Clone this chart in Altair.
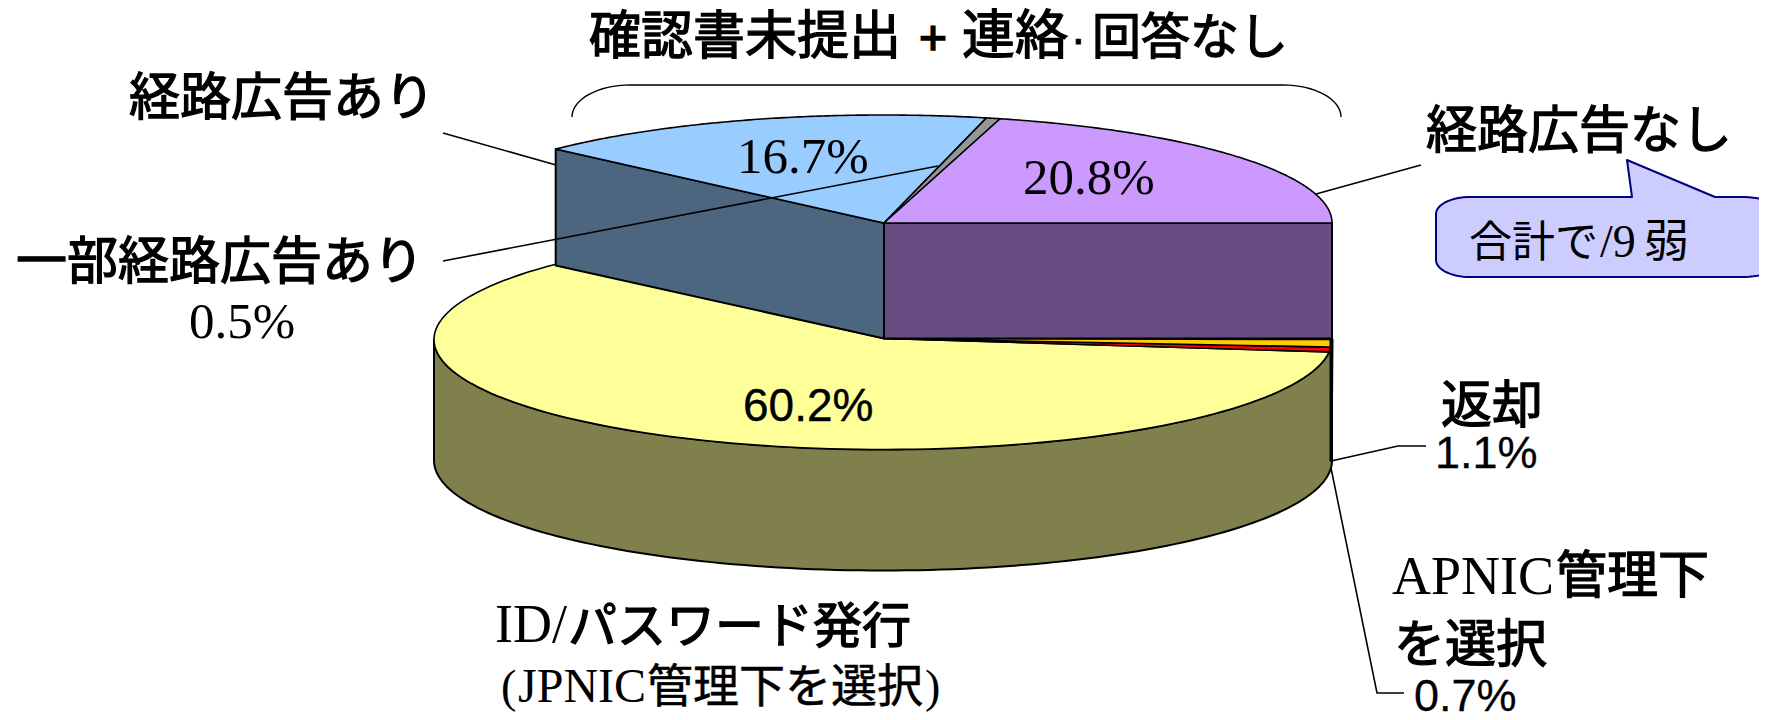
import math
import altair as alt

# Slice shares (percent), counter-clockwise from the right-hand edge of the pie
slice_names = ["経路広告なし", "一部経路広告あり", "経路広告あり", "ID/パスワード発行", "APNIC管理下を選択", "返却"]
slice_values = [20.8, 0.5, 16.7, 60.2, 0.7, 1.1]
top_colors = ["#CC99FF", "#969696", "#99CCFF", "#FFFF99", "#FF0000", "#FFCC00"]
wall_colors = ["#664C80", "#4B4B4B", "#4D6680", "#80804D", "#800000", "#806600"]

W, H = 1751, 704
CX, RX = 883, 449
UP_Y, UP_RY = 223, 108
LOW_Y, LOW_RY = 339.5, 110
DEPTH = 121
APEX_X = 884


def bounds():
    out, a = [], 0.0
    for v in slice_values:
        out.append((a, a + v * 3.6))
        a += v * 3.6
    return out


def arc(a0, a1, cy, ry, n=120):
    return [[CX + RX * math.cos(math.radians(a0 + (a1 - a0) * i / n)),
             cy - ry * math.sin(math.radians(a0 + (a1 - a0) * i / n))] for i in range(n + 1)]


def feature(points, fill, sw=2.0):
    return {"type": "Feature",
            "geometry": {"type": "Polygon", "coordinates": [points + [points[0]]]},
            "properties": {"fill": fill, "sw": sw}}


b = bounds()
features = []
# outer wall of the low part
w = arc(180, 360, LOW_Y, LOW_RY)
features.append(feature(w + [[x, y + DEPTH] for x, y in reversed(w)], wall_colors[3]))
# low slices
for i in (3, 4, 5):
    features.append(feature([[APEX_X, LOW_Y - 1]] + arc(b[i][0], b[i][1], LOW_Y, LOW_RY), top_colors[i], 1.6))
# right-hand edge of the thin slices
features.append(feature([[CX + RX, LOW_Y], [CX + RX - 1, LOW_Y + DEPTH], [CX + RX - 1, LOW_Y]], "#000000", 3))
# cut walls of the raised part
ax, ay = arc(b[2][1], b[2][1], UP_Y, UP_RY, 1)[0]
features.append(feature([[ax, ay], [APEX_X, UP_Y], [APEX_X, LOW_Y - 1], [ax, ay + (LOW_Y - UP_Y)]], wall_colors[2]))
features.append(feature([[APEX_X, UP_Y], [CX + RX, UP_Y], [CX + RX, LOW_Y - 1], [APEX_X, LOW_Y - 1]], wall_colors[0]))
# raised slices
for i in (2, 1, 0):
    features.append(feature([[APEX_X, UP_Y]] + arc(b[i][0], b[i][1], UP_Y, UP_RY), top_colors[i], 1.6))


# callout bubble
def corner(cx, cy, rx, ry, a0, a1, n=16):
    return [[cx + rx * math.cos(math.radians(a0 + (a1 - a0) * i / n)),
             cy - ry * math.sin(math.radians(a0 + (a1 - a0) * i / n))] for i in range(n + 1)]


bubble = (corner(1470, 214, 34, 17, 180, 90) + [[1632, 197], [1627, 160], [1715, 197]] +
          corner(1740, 214, 46, 17, 90, 0) + corner(1740, 260, 46, 17, 0, -90) +
          corner(1470, 260, 34, 17, -90, -180))
callout = {"type": "Feature", "geometry": {"type": "Polygon", "coordinates": [bubble + [bubble[0]]]},
           "properties": {"fill": "#CCCCFF", "sw": 2}}

shapes = alt.Chart(alt.Data(values=features + [callout], format=alt.DataFormat(type="json"))).mark_geoshape(
    clip=True, strokeJoin="round"
).encode(
    fill=alt.Fill("properties.fill:N", scale=None),
    strokeWidth=alt.StrokeWidth("properties.sw:Q", scale=None),
    stroke=alt.condition("datum.properties.fill == '#CCCCFF'", alt.value("#000080"), alt.value("#000000")),
).project(type="identity", scale=1, translate=[-8, -8])

xs = alt.Scale(domain=[8, 8 + W], range=[0, W])
ys = alt.Scale(domain=[8, 8 + H], range=[0, H])


def polyline(points, sw=1.6):
    rows = [{"x": p[0], "y": p[1], "o": i} for i, p in enumerate(points)]
    return alt.Chart(alt.Data(values=rows)).mark_line(color="black", strokeWidth=sw).encode(
        x=alt.X("x:Q", scale=xs, axis=None),
        y=alt.Y("y:Q", scale=ys, axis=None),
        order="o:Q",
    )


leaders = [
    [[443, 133], [556, 165]],
    [[443, 261], [938, 166]],
    [[1421, 165], [1316, 194]],
    [[1331, 461], [1398, 446], [1426, 446]],
    [[1331, 468], [1377, 693], [1404, 693]],
]
brace = corner(630, 117, 58, 32, 180, 90) + corner(1283, 117, 58, 32, 90, 0)

SERIF, SANS, CJK = "Liberation Serif", "Liberation Sans", "Noto Sans CJK JP"


def label(x, y, s, font=CJK, size=51, sw=1.3):
    return alt.Chart(alt.Data(values=[{"x": x, "y": y, "s": s}])).mark_text(
        font=font, fontSize=size, align="left", baseline="alphabetic", color="black",
        stroke="black", strokeWidth=sw,
    ).encode(
        x=alt.X("x:Q", scale=xs, axis=None),
        y=alt.Y("y:Q", scale=ys, axis=None),
        text="s:N",
    )


texts = [
    label(589, 54, "確認書未提出", CJK, 52),
    label(919, 54, "+", SANS, 48, 1.6),
    label(962, 54, "連絡", CJK, 53),
    label(1071, 54, "·", SANS, 44, 1.0),
    label(1092, 54, "回答なし", CJK, 49),
    label(129, 115, "経路広告あり"),
    label(16, 279, "一部経路広告あり"),
    label(189, 338, "0.5%", SERIF, 51, 0),
    label(1426, 148, "経路広告なし"),
    label(737, 173, "16.7%", SERIF, 51, 0),
    label(1023, 194, "20.8%", SERIF, 51, 0),
    label(743, 421, "60.2%", SANS, 46, 0.4),
    label(1441, 423, "返却"),
    label(1435, 468, "1.1%", SANS, 45, 0.3),
    label(1392, 594, "APNIC", SERIF, 54, 0),
    label(1556, 593, "管理下"),
    label(1394, 662, "を選択"),
    label(1414, 711, "0.7%", SANS, 45, 0.3),
    label(495, 642, "ID/", SERIF, 54, 0),
    label(568, 643, "パスワード発行", CJK, 49),
    label(501, 702, "(", SERIF, 46, 0),
    label(518, 702, "JPNIC", SERIF, 48, 0),
    label(647, 702, "管理下を選択", CJK, 46, 0.5),
    label(925, 702, ")", SERIF, 46, 0),
    label(1469, 257, "合計で", CJK, 43, 0),
    label(1600, 257, "/9", SERIF, 46, 0),
    label(1644, 257, "弱", CJK, 45, 0),
]

chart = alt.layer(
    shapes,
    *[polyline(p) for p in leaders],
    polyline(brace, 1.4),
    *texts,
).properties(
    width=W, height=H, padding=0,
    autosize=alt.AutoSizeParams(type="none"),
).configure_view(stroke=None)

chart.save("out.html", embed_options={"renderer": "svg", "actions": False})
